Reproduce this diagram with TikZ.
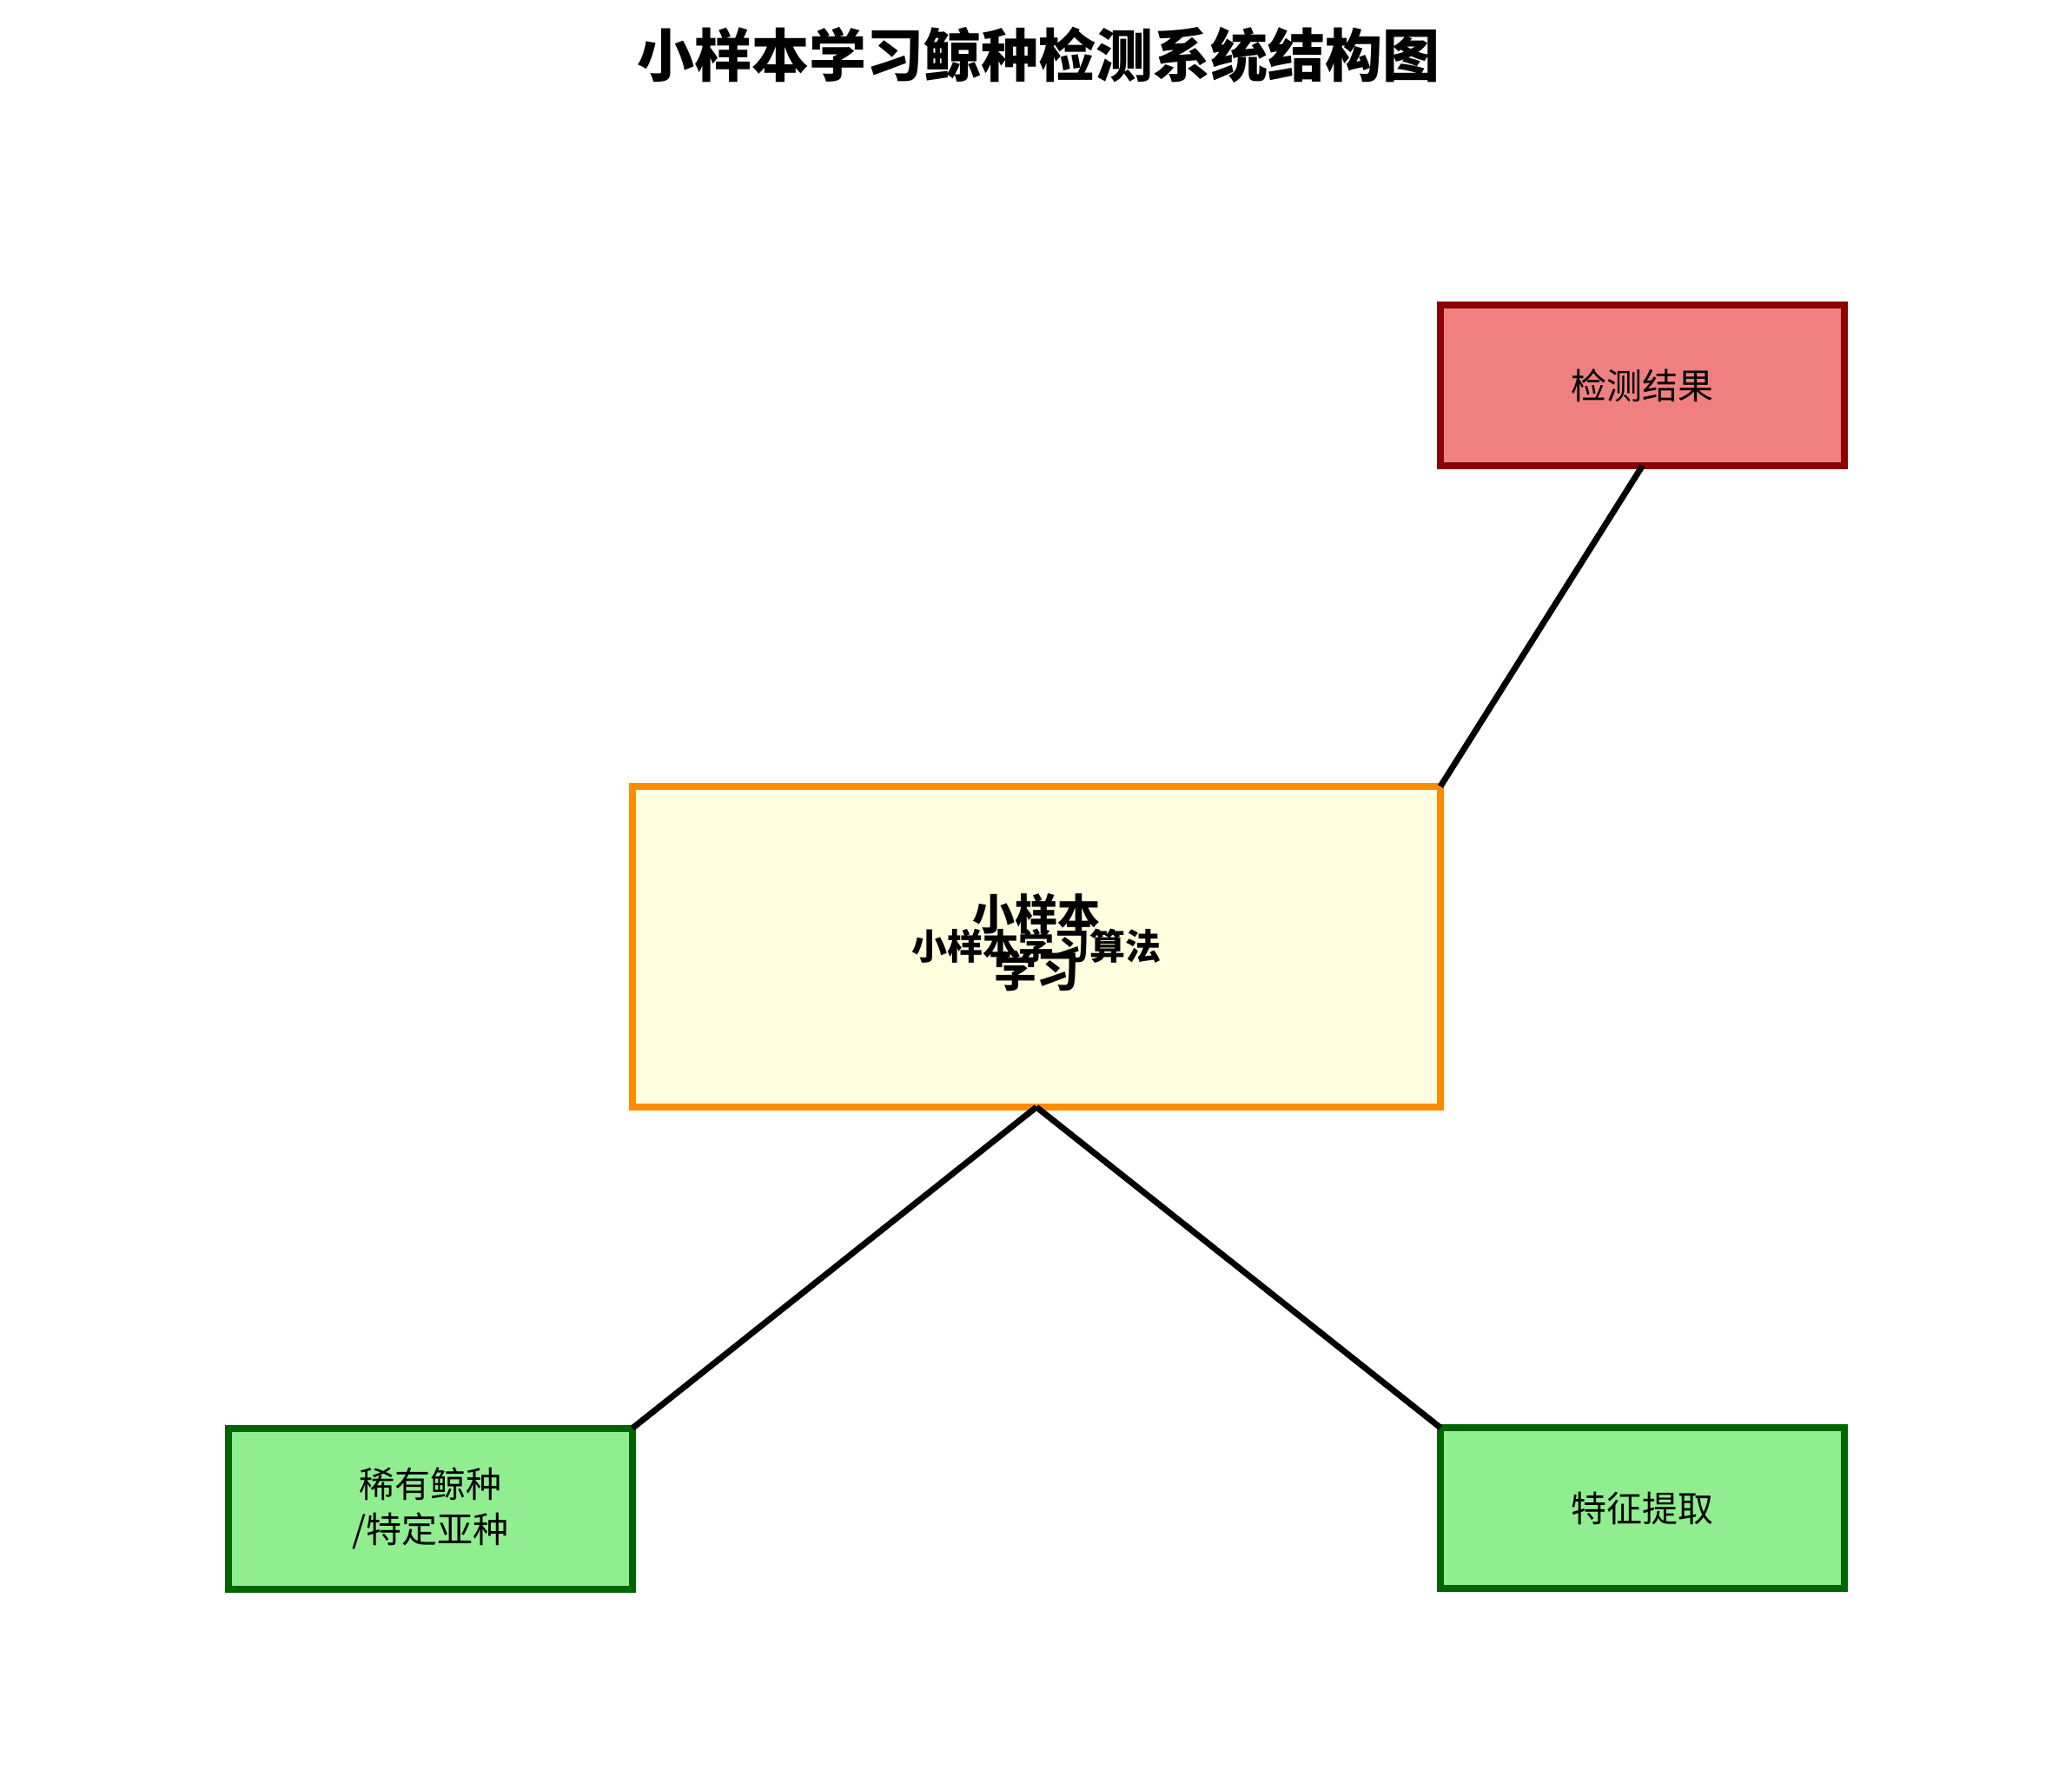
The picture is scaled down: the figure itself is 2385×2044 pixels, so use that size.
\documentclass[tikz,border=0pt]{standalone}
\usepackage{fontspec}
\newfontfamily\cjk{Noto Sans CJK SC}
\definecolor{resfill}{HTML}{F08080}
\definecolor{resdraw}{HTML}{8B0000}
\definecolor{ctrfill}{HTML}{FFFFE0}
\definecolor{ctrdraw}{HTML}{FF8C00}
\definecolor{grnfill}{HTML}{90EE90}
\definecolor{grndraw}{HTML}{006400}
\tikzset{
  boxbase/.style={rectangle, line width=2.4pt, outer sep=0pt, inner sep=0pt, align=center,
    font=\cjk\fontsize{12.3}{15.6}\selectfont},
  smallbox/.style={boxbase, minimum width=139.5pt, minimum height=55.5pt},
  resbox/.style={smallbox, draw=resdraw, fill=resfill},
  grnbox/.style={smallbox, draw=grndraw, fill=grnfill},
  ctrbox/.style={boxbase, draw=ctrdraw, fill=ctrfill, minimum width=279pt, minimum height=110.7pt},
  link/.style={draw=black, line width=2.1pt},
  plain/.style={inner sep=0pt, outer sep=0pt, align=center}
}
\begin{document}
\begin{tikzpicture}[x=0.3pt, y=-0.3pt]
\useasboundingbox (0,0) rectangle (2385,2044);
\node[plain, font=\cjk\bfseries\fontsize{19.8}{24}\selectfont] (title) at (1195,63) {小样本学习鲸种检测系统结构图};
\node[resbox] (res) at (1890.5,443.5) {检测结果};
\node[ctrbox] (ctr) at (1193,1089.5) {};
\node[grnbox] (rare) at (495.5,1736) {稀有鲸种\\/特定亚种};
\node[grnbox] (feat) at (1890.5,1735.5) {特征提取};
\draw[link] (res.south) -- (ctr.north east);
\draw[link] (ctr.south) -- (rare.north east);
\draw[link] (ctr.south) -- (feat.north west);
\node[plain, font=\cjk\bfseries\fontsize{14.7}{19.8}\selectfont] (ctrbig) at (1193,1085) {小样本\\学习};
\node[plain, font=\cjk\bfseries\fontsize{12.3}{15.6}\selectfont] (ctrsmall) at (1193,1089) {小样本学习算法};
\end{tikzpicture}
\end{document}
